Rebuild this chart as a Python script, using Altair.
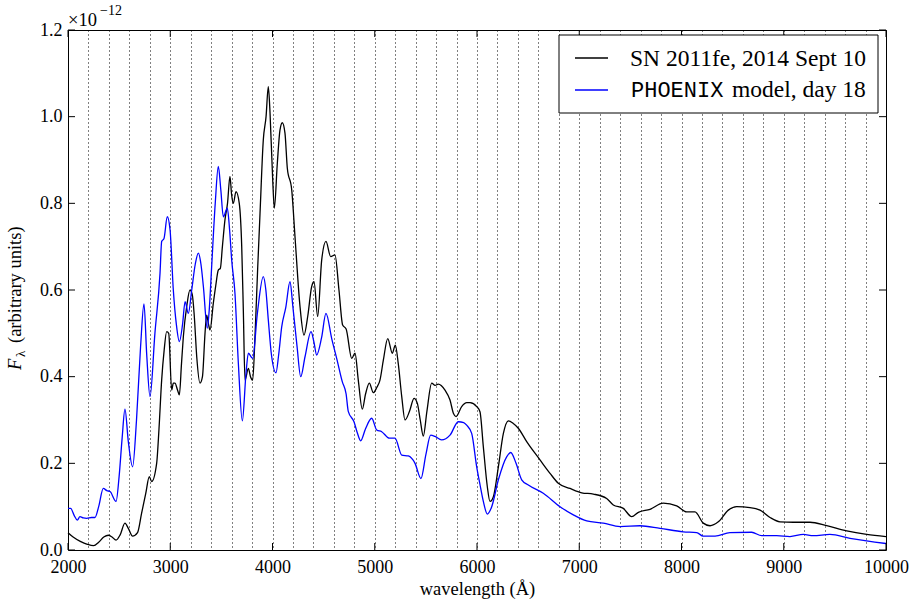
import altair as alt
import pandas as pd

# ---------------- data (flux in units of 1e-12) ----------------
sn_wavelength = [2000, 2050, 2120, 2190, 2250, 2300, 2350, 2395, 2430, 2470, 2510, 2557, 2590, 2632,
                 2680, 2720, 2760, 2795, 2818, 2867, 2890, 2916, 2940, 2965, 2985, 3014, 3030, 3046,
                 3070, 3089, 3110, 3128, 3161, 3193, 3215, 3235, 3259, 3291, 3315, 3340, 3356, 3375,
                 3389, 3421, 3445, 3470, 3490, 3510, 3535, 3560, 3584, 3600, 3617, 3643, 3675, 3699,
                 3715, 3731, 3764, 3785, 3806, 3830, 3855, 3878, 3910, 3937, 3959, 3976, 4002, 4018,
                 4047, 4073, 4096, 4122, 4145, 4188, 4220, 4269, 4308, 4345, 4383, 4406, 4442, 4481,
                 4523, 4569, 4611, 4650, 4686, 4720, 4775, 4807, 4839, 4878, 4910, 4947, 4986, 5020,
                 5051, 5084, 5127, 5172, 5201, 5230, 5264, 5296, 5340, 5384, 5416, 5445, 5475, 5510,
                 5557, 5590, 5621, 5687, 5736, 5770, 5795, 5850, 5900, 5932, 5997, 6029, 6062, 6101,
                 6127, 6160, 6209, 6258, 6307, 6355, 6404, 6486, 6616, 6714, 6795, 6910, 7024, 7138,
                 7268, 7333, 7431, 7513, 7578, 7692, 7822, 7953, 8051, 8132, 8213, 8279, 8360, 8458,
                 8540, 8670, 8768, 8866, 8963, 9094, 9257, 9420, 9616, 9811, 10000]
sn_flux = [0.040, 0.030, 0.020, 0.013, 0.010, 0.018, 0.030, 0.034, 0.030, 0.023, 0.035, 0.062, 0.050, 0.032,
           0.040, 0.085, 0.130, 0.169, 0.158, 0.200, 0.280, 0.392, 0.460, 0.504, 0.500, 0.369, 0.385, 0.385,
           0.370, 0.358, 0.430, 0.492, 0.562, 0.600, 0.590, 0.540, 0.446, 0.385, 0.400, 0.500, 0.542, 0.520,
           0.508, 0.569, 0.610, 0.646, 0.650, 0.700, 0.762, 0.800, 0.862, 0.820, 0.800, 0.827, 0.800, 0.700,
           0.550, 0.392, 0.419, 0.400, 0.392, 0.500, 0.650, 0.777, 0.946, 1.000, 1.069, 1.008, 0.854, 0.789,
           0.892, 0.969, 0.986, 0.962, 0.881, 0.831, 0.723, 0.562, 0.496, 0.540, 0.608, 0.619, 0.539, 0.669,
           0.712, 0.677, 0.681, 0.600, 0.519, 0.510, 0.442, 0.454, 0.392, 0.325, 0.360, 0.385, 0.363, 0.375,
           0.392, 0.438, 0.488, 0.454, 0.473, 0.430, 0.354, 0.300, 0.320, 0.350, 0.339, 0.300, 0.263, 0.320,
           0.385, 0.380, 0.383, 0.369, 0.346, 0.315, 0.308, 0.331, 0.340, 0.340, 0.331, 0.319, 0.238, 0.146,
           0.112, 0.123, 0.192, 0.269, 0.298, 0.292, 0.281, 0.250, 0.208, 0.177, 0.154, 0.142, 0.132, 0.129,
           0.119, 0.104, 0.096, 0.077, 0.087, 0.094, 0.108, 0.102, 0.088, 0.088, 0.062, 0.056, 0.065, 0.092,
           0.100, 0.098, 0.092, 0.075, 0.065, 0.064, 0.064, 0.056, 0.044, 0.036, 0.031]

model_wavelength = [2000, 2026, 2060, 2091, 2117, 2150, 2183, 2230, 2264, 2300, 2345, 2380, 2411, 2470,
                    2500, 2530, 2557, 2590, 2632, 2670, 2710, 2743, 2770, 2802, 2850, 2900, 2916, 2939,
                    2971, 2998, 3030, 3060, 3089, 3120, 3145, 3177, 3210, 3245, 3275, 3300, 3324, 3362,
                    3383, 3405, 3440, 3470, 3495, 3519, 3558, 3580, 3601, 3633, 3666, 3705, 3741, 3764,
                    3806, 3852, 3910, 3935, 3959, 3990, 4034, 4060, 4090, 4130, 4171, 4200, 4240, 4276,
                    4318, 4377, 4405, 4432, 4480, 4523, 4579, 4630, 4683, 4720, 4741, 4797, 4830, 4862,
                    4910, 4970, 5019, 5068, 5143, 5198, 5264, 5328, 5394, 5452, 5500, 5547, 5589, 5654,
                    5736, 5817, 5870, 5899, 5948, 5997, 6030, 6062, 6101, 6144, 6209, 6290, 6330, 6382,
                    6437, 6502, 6648, 6812, 6942, 7073, 7235, 7399, 7594, 7790, 8018, 8149, 8213, 8328,
                    8474, 8686, 8784, 8931, 9061, 9192, 9289, 9452, 9648, 10000]
model_flux = [0.096, 0.096, 0.080, 0.069, 0.077, 0.074, 0.073, 0.075, 0.075, 0.100, 0.142, 0.137, 0.135, 0.112,
              0.170, 0.260, 0.325, 0.250, 0.192, 0.300, 0.470, 0.568, 0.450, 0.354, 0.500, 0.639, 0.712, 0.719,
              0.769, 0.739, 0.600, 0.520, 0.481, 0.520, 0.573, 0.546, 0.600, 0.660, 0.685, 0.660, 0.608, 0.512,
              0.560, 0.654, 0.800, 0.885, 0.830, 0.769, 0.789, 0.740, 0.669, 0.592, 0.431, 0.298, 0.408, 0.454,
              0.442, 0.546, 0.631, 0.600, 0.531, 0.450, 0.409, 0.450, 0.515, 0.560, 0.619, 0.560, 0.470, 0.400,
              0.446, 0.504, 0.480, 0.450, 0.490, 0.546, 0.488, 0.440, 0.388, 0.360, 0.320, 0.296, 0.270, 0.252,
              0.280, 0.304, 0.277, 0.273, 0.258, 0.258, 0.219, 0.217, 0.200, 0.165, 0.220, 0.265, 0.262, 0.254,
              0.265, 0.296, 0.294, 0.288, 0.269, 0.192, 0.150, 0.112, 0.083, 0.100, 0.162, 0.215, 0.225, 0.200,
              0.162, 0.150, 0.131, 0.100, 0.081, 0.067, 0.062, 0.054, 0.056, 0.050, 0.042, 0.040, 0.032, 0.032,
              0.040, 0.041, 0.033, 0.033, 0.031, 0.036, 0.033, 0.036, 0.027, 0.015]

x_tick_values = [2000, 3000, 4000, 5000, 6000, 7000, 8000, 9000, 10000]
x_grid_values = list(range(2000, 10001, 200))
y_tick_values = [0.0, 0.2, 0.4, 0.6, 0.8, 1.0, 1.2]
legend_labels = ["SN 2011fe, 2014 Sept 10", "PHOENIX", "model, day 18"]
x_title = "wavelength (Å)"
y_title_parts = ["F", "λ", "(arbitrary units)"]
offset_parts = ["×10", "−12"]

# ---------------- layout ----------------
W, H = 818, 520
SERIF = "Liberation Serif"
MONO = "Liberation Mono"

xs = alt.Scale(domain=[2000, 10000], nice=False, zero=False)
ys = alt.Scale(domain=[0, 1.2], nice=False, zero=False)

sn_df = pd.DataFrame({"wavelength": sn_wavelength, "flux": sn_flux})
model_df = pd.DataFrame({"wavelength": model_wavelength, "flux": model_flux})

x_axis = alt.Axis(values=x_grid_values, format="d",
                  labelExpr="datum.value % 1000 === 0 ? datum.label : ''",
                  labelOverlap=False, ticks=False, domain=False,
                  grid=True, gridDash=[1, 3], gridColor="black", gridWidth=1, gridOpacity=1,
                  labelFont=SERIF, labelFontSize=18, labelColor="black", labelPadding=8,
                  labelFlush=False,
                  title=x_title, titleFont=SERIF, titleFontSize=18.5, titleFontWeight="normal",
                  titleColor="black", titlePadding=3)
y_axis = alt.Axis(values=y_tick_values, format=".1f", ticks=False, domain=False, grid=False,
                  labelFont=SERIF, labelFontSize=18, labelColor="black", labelPadding=6,
                  labelFlush=False, title="")


def X(field):
    return alt.X(field, scale=xs, axis=x_axis)


def Y(field):
    return alt.Y(field, scale=ys, axis=y_axis)


sn_line = alt.Chart(sn_df).mark_line(color="black", strokeWidth=1.3, interpolate="monotone").encode(
    x=X("wavelength:Q"), y=Y("flux:Q"))
model_line = alt.Chart(model_df).mark_line(color="#0000ff", strokeWidth=1.3, interpolate="monotone").encode(
    x=X("wavelength:Q"), y=Y("flux:Q"))

xt_df = pd.DataFrame({"wavelength": x_tick_values})
yt_df = pd.DataFrame({"flux": y_tick_values})
tick_bottom = alt.Chart(xt_df).mark_rule(color="black", strokeWidth=1).encode(
    x=X("wavelength:Q"), y=alt.value(H), y2=alt.value(H - 7))
tick_top = alt.Chart(xt_df).mark_rule(color="black", strokeWidth=1).encode(
    x=X("wavelength:Q"), y=alt.value(0), y2=alt.value(7))
tick_left = alt.Chart(yt_df).mark_rule(color="black", strokeWidth=1).encode(
    y=Y("flux:Q"), x=alt.value(0), x2=alt.value(7))
tick_right = alt.Chart(yt_df).mark_rule(color="black", strokeWidth=1).encode(
    y=Y("flux:Q"), x=alt.value(W), x2=alt.value(W - 7))

one = pd.DataFrame({"a": [0]})

# legend (drawn by hand so that PHOENIX can be monospace)
leg_box = alt.Chart(one).mark_rect(fill="white", stroke="black", strokeWidth=1).encode(
    x=alt.value(491), x2=alt.value(810), y=alt.value(5), y2=alt.value(83))
leg_line1 = alt.Chart(one).mark_rule(color="black", strokeWidth=1.3).encode(
    x=alt.value(507), x2=alt.value(540), y=alt.value(28))
leg_line2 = alt.Chart(one).mark_rule(color="#0000ff", strokeWidth=1.3).encode(
    x=alt.value(507), x2=alt.value(540), y=alt.value(60))
leg_t1 = alt.Chart(pd.DataFrame({"t": [legend_labels[0]]})).mark_text(
    align="left", baseline="alphabetic", font=SERIF, fontSize=23.5, color="black").encode(
    text="t:N", x=alt.value(562), y=alt.value(36))
leg_t2 = alt.Chart(pd.DataFrame({"t": [legend_labels[1]]})).mark_text(
    align="left", baseline="alphabetic", font=MONO, fontSize=22, color="black").encode(
    text="t:N", x=alt.value(563), y=alt.value(67))
leg_t3 = alt.Chart(pd.DataFrame({"t": [legend_labels[2]]})).mark_text(
    align="left", baseline="alphabetic", font=SERIF, fontSize=23.5, color="black").encode(
    text="t:N", x=alt.value(664), y=alt.value(67))

# y title: italic F with subscript lambda
yt1 = alt.Chart(pd.DataFrame({"t": [y_title_parts[0]]})).mark_text(
    align="left", baseline="alphabetic", font=SERIF, fontSize=18.5, fontStyle="italic",
    angle=270, color="black").encode(text="t:N", x=alt.value(-47), y=alt.value(340))
yt2 = alt.Chart(pd.DataFrame({"t": [y_title_parts[1]]})).mark_text(
    align="left", baseline="alphabetic", font=SERIF, fontSize=13,
    angle=270, color="black").encode(text="t:N", x=alt.value(-43), y=alt.value(327))
yt3 = alt.Chart(pd.DataFrame({"t": [y_title_parts[2]]})).mark_text(
    align="left", baseline="alphabetic", font=SERIF, fontSize=18.5,
    angle=270, color="black").encode(text="t:N", x=alt.value(-47), y=alt.value(313))

# offset text x10^-12
off1 = alt.Chart(pd.DataFrame({"t": [offset_parts[0]]})).mark_text(
    align="left", baseline="alphabetic", font=SERIF, fontSize=18.5, color="black").encode(
    text="t:N", x=alt.value(0), y=alt.value(-4))
off2 = alt.Chart(pd.DataFrame({"t": [offset_parts[1]]})).mark_text(
    align="left", baseline="alphabetic", font=SERIF, fontSize=14, color="black").encode(
    text="t:N", x=alt.value(32), y=alt.value(-15))

chart = alt.layer(
    sn_line, model_line,
    tick_bottom, tick_top, tick_left, tick_right,
    leg_box, leg_line1, leg_line2, leg_t1, leg_t2, leg_t3,
    yt1, yt2, yt3, off1, off2,
).properties(
    width=W, height=H,
    autosize=alt.AutoSizeParams(type="none"),
    padding={"left": 68, "top": 30, "right": 26, "bottom": 51},
    background="white",
).configure_view(stroke="black", strokeWidth=1)

chart.save("out.html", embed_options={"renderer": "svg", "actions": False})
